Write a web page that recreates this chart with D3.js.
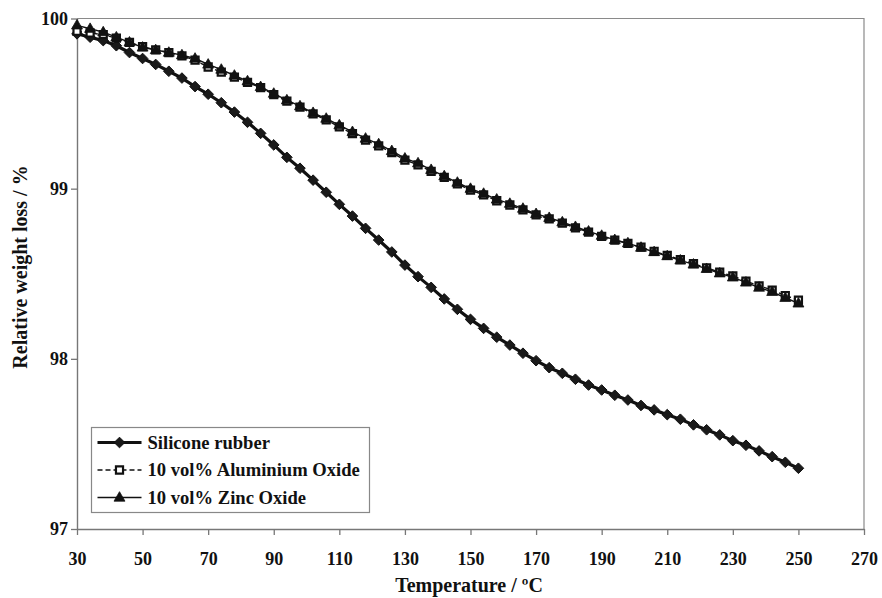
<!DOCTYPE html>
<html>
<head>
<meta charset="utf-8">
<script src="https://cdn.jsdelivr.net/npm/d3@7"></script>
<style>
  html, body { margin: 0; padding: 0; background: #fff; }
  svg { display: block; }
  text { font-family: "Liberation Serif", "Times New Roman", serif; font-weight: bold; fill: #111; }
</style>
</head>
<body>
<svg id="chart" width="882" height="598"></svg>
<script>
// Temperature readings (°C), one every 4 degrees from 30 to 250
const temperatures = d3.range(30, 251, 4);

// Relative weight (%) of each compound at those temperatures
const siliconeRubber = [
  99.91, 99.89, 99.87, 99.84, 99.80, 99.765, 99.73, 99.69, 99.65, 99.60,
  99.555, 99.505, 99.45, 99.39, 99.325, 99.257, 99.184, 99.120, 99.05, 98.979,
  98.908, 98.839, 98.767, 98.698, 98.628, 98.551, 98.483, 98.420, 98.352, 98.291,
  98.232, 98.179, 98.127, 98.081, 98.033, 97.989, 97.948, 97.915, 97.880, 97.846,
  97.817, 97.786, 97.758, 97.726, 97.700, 97.672, 97.645, 97.612, 97.583, 97.553,
  97.519, 97.492, 97.459, 97.425, 97.392, 97.357
];
const aluminiumOxide = [
  99.925, 99.915, 99.905, 99.885, 99.86, 99.835, 99.815, 99.80, 99.78, 99.755,
  99.715, 99.685, 99.655, 99.625, 99.594, 99.553, 99.514, 99.479, 99.440, 99.404,
  99.363, 99.324, 99.285, 99.252, 99.212, 99.168, 99.140, 99.101, 99.066, 99.028,
  98.992, 98.963, 98.929, 98.904, 98.875, 98.846, 98.823, 98.797, 98.770, 98.745,
  98.720, 98.697, 98.678, 98.656, 98.632, 98.608, 98.583, 98.559, 98.535, 98.509,
  98.487, 98.457, 98.429, 98.404, 98.372, 98.345
];
const zincOxide = [
  99.96, 99.94, 99.92, 99.89, 99.86, 99.83, 99.815, 99.80, 99.785, 99.765,
  99.73, 99.70, 99.665, 99.632, 99.598, 99.559, 99.520, 99.485, 99.446, 99.412,
  99.373, 99.334, 99.295, 99.262, 99.222, 99.178, 99.150, 99.111, 99.074, 99.036,
  99.000, 98.971, 98.937, 98.912, 98.883, 98.852, 98.829, 98.803, 98.776, 98.749,
  98.724, 98.699, 98.680, 98.654, 98.628, 98.604, 98.579, 98.555, 98.529, 98.503,
  98.479, 98.449, 98.419, 98.394, 98.359, 98.326
];

const seriesNames = ["Silicone rubber", "10 vol% Aluminium Oxide", "10 vol% Zinc Oxide"];
const xTicks = [30, 50, 70, 90, 110, 130, 150, 170, 190, 210, 230, 250, 270];
const yTicks = [97, 98, 99, 100];

const svg = d3.select("#chart");
const plot = { left: 77, right: 864, top: 18.5, bottom: 529 };

const x = d3.scaleLinear().domain([30, 270]).range([plot.left, plot.right]);
const y = d3.scaleLinear().domain([97, 100]).range([plot.bottom, plot.top]);

// Plot frame (top and right sides)
svg.append("path")
  .attr("d", `M${plot.left},${plot.top}H${plot.right}V${plot.bottom}`)
  .attr("fill", "none").attr("stroke", "#8a8a8a").attr("stroke-width", 1.2);

// Axes
const xAxis = svg.append("g")
  .attr("transform", `translate(0,${plot.bottom})`)
  .call(d3.axisBottom(x).tickValues(xTicks).tickSize(6).tickPadding(17).tickSizeOuter(0));
const yAxis = svg.append("g")
  .attr("transform", `translate(${plot.left},0)`)
  .call(d3.axisLeft(y).tickValues(yTicks).tickSize(6).tickPadding(3).tickSizeOuter(0)
    .tickFormat(d3.format("d")));

[xAxis, yAxis].forEach(g => {
  g.select(".domain").attr("stroke", "#777").attr("stroke-width", 1.4);
  g.selectAll(".tick line").attr("stroke", "#777").attr("stroke-width", 1.3);
  g.selectAll(".tick text")
    .style("font-family", "'Liberation Serif', 'Times New Roman', serif")
    .style("font-weight", "bold").style("font-size", "18px").attr("fill", "#111");
});

// Axis titles
svg.append("text")
  .attr("x", 469).attr("y", 592)
  .attr("text-anchor", "middle").style("font-size", "20px")
  .text("Temperature / ºC");
svg.append("text")
  .attr("transform", `translate(27,267) rotate(-90)`)
  .attr("text-anchor", "middle").style("font-size", "20px")
  .text("Relative weight loss / %");

// Series definitions
const series = [
  { name: seriesNames[0], values: siliconeRubber, width: 3.2, dash: null, marker: "diamond" },
  { name: seriesNames[1], values: aluminiumOxide, width: 1.4, dash: "5,3", marker: "square" },
  { name: seriesNames[2], values: zincOxide, width: 1.4, dash: null, marker: "triangle" }
];

const symbols = {
  diamond: d3.symbol().type(d3.symbolDiamond2).size(72),
  square: d3.symbol().type(d3.symbolSquare).size(50),
  triangle: d3.symbol().type(d3.symbolTriangle).size(52)
};

function drawMarker(g, type, cx, cy) {
  const p = g.append("path").attr("d", symbols[type]()).attr("transform", `translate(${cx},${cy})`);
  if (type === "square") {
    p.attr("fill", "#fff").attr("stroke", "#111").attr("stroke-width", 2.2);
  } else if (type === "diamond") {
    p.attr("fill", "#1a1a1a").attr("stroke", "#111").attr("stroke-width", 1);
  } else {
    p.attr("fill", "#111").attr("stroke", "#111").attr("stroke-width", 0.8)
      .attr("transform", `translate(${cx},${cy + 0.5})`);
  }
  return p;
}

const line = d3.line().x(d => x(d[0])).y(d => y(d[1]));

series.forEach(s => {
  const pts = temperatures.map((t, i) => [t, s.values[i]]);
  const g = svg.append("g");
  g.append("path").datum(pts)
    .attr("d", line).attr("fill", "none")
    .attr("stroke", "#111").attr("stroke-width", s.width)
    .attr("stroke-dasharray", s.dash);
  pts.forEach(p => drawMarker(g, s.marker, x(p[0]), y(p[1])));
});

// Legend
const legend = svg.append("g").attr("transform", "translate(91.5,427.5)");
legend.append("rect").attr("width", 278).attr("height", 85)
  .attr("fill", "#fff").attr("stroke", "#888").attr("stroke-width", 1.2);
series.forEach((s, i) => {
  const ly = 15 + i * 27.5;
  legend.append("line").attr("x1", 6).attr("x2", 50).attr("y1", ly).attr("y2", ly)
    .attr("stroke", "#111").attr("stroke-width", s.width)
    .attr("stroke-dasharray", s.dash);
  drawMarker(legend, s.marker, 28, ly);
  legend.append("text").attr("x", 56).attr("y", ly + 6)
    .style("font-size", "18.6px").text(s.name);
});
</script>
</body>
</html>
